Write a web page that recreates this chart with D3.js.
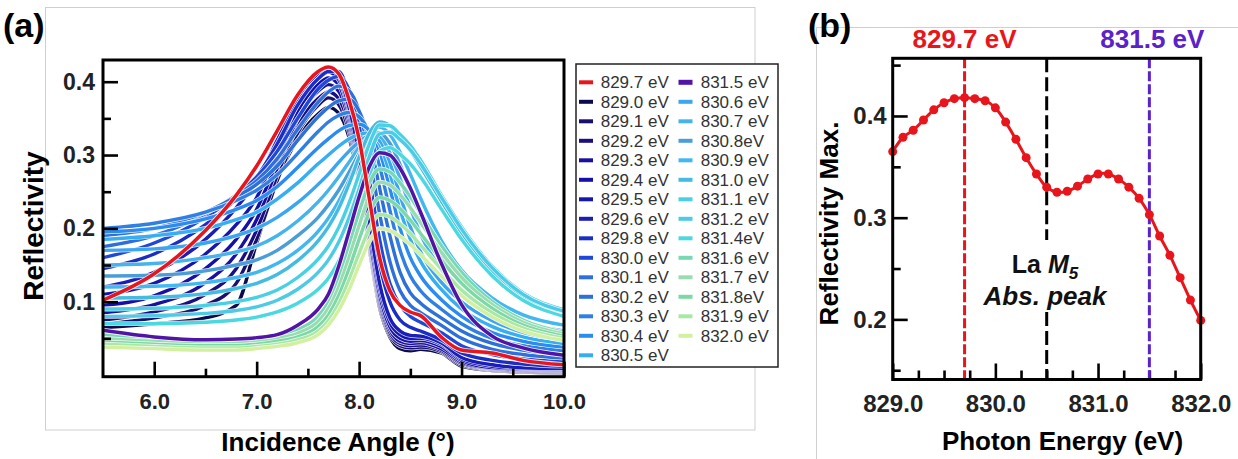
<!DOCTYPE html>
<html><head><meta charset="utf-8">
<script src="https://cdn.jsdelivr.net/npm/d3@7"></script>
<style>html,body{margin:0;padding:0;background:#fff;} svg{display:block;font-family:"Liberation Sans",Arial,sans-serif;}</style>
</head><body>
<svg id="chart" width="1238" height="459"></svg>
<script>
// ---------- Panel (a) data: reflectivity vs incidence angle ----------
const angles = [5.5, 6.0, 6.5, 6.8, 7.0, 7.2, 7.4, 7.6, 7.7, 7.8, 7.9, 8.0, 8.1, 8.2, 8.3, 8.4, 8.5, 8.6, 8.8, 9.0, 9.3, 9.6, 10.0];

const r8290 = [0.065,0.070,0.078,0.095,0.180,0.265,0.322,0.356,0.365,0.357,0.325,0.262,0.172,0.092,0.052,0.036,0.033,0.035,0.030,0.012,0.006,0.004,0.003];
const r8291 = [0.070,0.078,0.095,0.125,0.185,0.265,0.330,0.368,0.378,0.369,0.333,0.266,0.176,0.096,0.055,0.040,0.037,0.038,0.032,0.014,0.007,0.005,0.004];
const r8292 = [0.075,0.086,0.110,0.145,0.198,0.272,0.340,0.377,0.386,0.377,0.340,0.271,0.180,0.100,0.058,0.043,0.040,0.041,0.034,0.016,0.008,0.006,0.005];
const r8293 = [0.085,0.096,0.126,0.165,0.212,0.282,0.350,0.387,0.396,0.387,0.347,0.276,0.185,0.105,0.062,0.046,0.043,0.044,0.036,0.018,0.009,0.007,0.006];
const r8294 = [0.095,0.108,0.145,0.185,0.226,0.292,0.360,0.396,0.405,0.396,0.354,0.282,0.190,0.110,0.066,0.050,0.046,0.047,0.039,0.020,0.010,0.008,0.007];
const r8295 = [0.110,0.125,0.165,0.205,0.242,0.306,0.370,0.404,0.413,0.403,0.361,0.290,0.200,0.118,0.072,0.055,0.050,0.050,0.042,0.022,0.012,0.009,0.008];
const r8296 = [0.120,0.140,0.185,0.228,0.265,0.320,0.378,0.411,0.418,0.408,0.366,0.300,0.210,0.125,0.078,0.060,0.054,0.053,0.044,0.024,0.014,0.010,0.009];
const r8297 = [0.102,0.138,0.197,0.245,0.285,0.333,0.382,0.414,0.420,0.411,0.376,0.322,0.240,0.160,0.115,0.095,0.086,0.081,0.052,0.034,0.030,0.020,0.014];
const r8298 = [0.145,0.165,0.205,0.240,0.270,0.315,0.368,0.404,0.414,0.414,0.382,0.322,0.236,0.152,0.100,0.075,0.065,0.060,0.048,0.030,0.020,0.015,0.012];
const r8300 = [0.160,0.180,0.215,0.245,0.270,0.305,0.350,0.390,0.402,0.407,0.390,0.345,0.270,0.185,0.125,0.095,0.080,0.072,0.058,0.040,0.028,0.022,0.018];
const r8301 = [0.175,0.190,0.220,0.245,0.265,0.295,0.335,0.372,0.386,0.394,0.388,0.360,0.300,0.220,0.155,0.115,0.095,0.085,0.068,0.050,0.035,0.028,0.023];
const r8302 = [0.190,0.200,0.222,0.243,0.260,0.285,0.320,0.352,0.365,0.374,0.376,0.360,0.320,0.255,0.190,0.140,0.112,0.098,0.078,0.060,0.043,0.034,0.028];
const r8303 = [0.200,0.207,0.222,0.238,0.252,0.273,0.302,0.332,0.345,0.354,0.358,0.352,0.330,0.285,0.225,0.170,0.135,0.115,0.090,0.070,0.050,0.040,0.033];
const r8304 = [0.195,0.200,0.213,0.226,0.238,0.257,0.283,0.310,0.322,0.333,0.340,0.342,0.333,0.305,0.255,0.200,0.160,0.135,0.103,0.080,0.058,0.046,0.038];
const r8305 = [0.185,0.190,0.200,0.212,0.222,0.240,0.262,0.288,0.300,0.312,0.322,0.328,0.330,0.315,0.275,0.225,0.185,0.155,0.117,0.090,0.066,0.052,0.043];
const r8306 = [0.170,0.172,0.180,0.190,0.200,0.215,0.235,0.260,0.274,0.290,0.305,0.318,0.326,0.320,0.290,0.245,0.202,0.168,0.127,0.100,0.074,0.058,0.048];
const r8307 = [0.150,0.152,0.160,0.168,0.176,0.190,0.210,0.236,0.252,0.270,0.290,0.310,0.324,0.325,0.303,0.268,0.228,0.192,0.144,0.112,0.083,0.065,0.053];
const r8308 = [0.135,0.136,0.142,0.150,0.157,0.170,0.190,0.215,0.232,0.252,0.276,0.302,0.324,0.330,0.316,0.287,0.252,0.218,0.164,0.127,0.093,0.073,0.060];
const r8309 = [0.120,0.121,0.126,0.133,0.140,0.152,0.170,0.196,0.214,0.237,0.265,0.297,0.325,0.338,0.328,0.304,0.274,0.241,0.184,0.143,0.105,0.082,0.068];
const r8310 = [0.105,0.106,0.111,0.118,0.125,0.137,0.156,0.183,0.202,0.227,0.260,0.297,0.330,0.345,0.340,0.324,0.306,0.284,0.238,0.194,0.142,0.108,0.086];
const r8311 = [0.090,0.091,0.095,0.100,0.106,0.116,0.133,0.158,0.176,0.201,0.234,0.274,0.315,0.341,0.340,0.328,0.313,0.293,0.246,0.202,0.148,0.112,0.089];
const r8312 = [0.080,0.081,0.084,0.088,0.093,0.102,0.117,0.140,0.157,0.181,0.214,0.254,0.298,0.329,0.331,0.321,0.307,0.288,0.243,0.199,0.146,0.110,0.087];
const r8314 = [0.070,0.070,0.072,0.075,0.079,0.086,0.098,0.117,0.132,0.155,0.187,0.226,0.272,0.305,0.310,0.301,0.288,0.270,0.227,0.185,0.135,0.102,0.080];
const r8315 = [0.061,0.052,0.048,0.049,0.051,0.055,0.068,0.090,0.110,0.148,0.195,0.243,0.284,0.303,0.300,0.282,0.255,0.222,0.153,0.096,0.053,0.037,0.027];
const r8316 = [0.055,0.050,0.048,0.048,0.050,0.054,0.062,0.080,0.100,0.133,0.176,0.222,0.262,0.281,0.277,0.262,0.243,0.221,0.177,0.140,0.100,0.075,0.058];
const r8317 = [0.050,0.046,0.044,0.044,0.046,0.050,0.057,0.073,0.091,0.120,0.160,0.204,0.243,0.263,0.259,0.246,0.228,0.208,0.168,0.133,0.096,0.072,0.056];
const r8318 = [0.045,0.042,0.040,0.040,0.042,0.046,0.052,0.066,0.082,0.108,0.144,0.185,0.222,0.242,0.238,0.227,0.211,0.193,0.157,0.125,0.091,0.068,0.053];
const r8319 = [0.042,0.039,0.037,0.037,0.039,0.042,0.048,0.060,0.074,0.097,0.129,0.166,0.200,0.219,0.216,0.206,0.193,0.177,0.145,0.116,0.085,0.064,0.050];
const r8320 = [0.038,0.036,0.034,0.034,0.036,0.039,0.044,0.055,0.068,0.088,0.116,0.150,0.182,0.200,0.197,0.189,0.178,0.164,0.135,0.108,0.079,0.060,0.047];

const legendLeft  = ["829.7 eV","829.0 eV","829.1 eV","829.2 eV","829.3 eV","829.4 eV","829.5 eV","829.6 eV","829.8 eV","830.0 eV","830.1 eV","830.2 eV","830.3 eV","830.4 eV","830.5 eV"];
const legendRight = ["831.5 eV","830.6 eV","830.7 eV","830.8eV","830.9 eV","831.0 eV","831.1 eV","831.2 eV","831.4eV","831.6 eV","831.7 eV","831.8eV","831.9 eV","832.0 eV"];

// series in ascending energy order (draw order), highlighted ones last
const seriesOrder = ["829.0 eV","829.1 eV","829.2 eV","829.3 eV","829.4 eV","829.5 eV","829.6 eV","829.8 eV","830.0 eV","830.1 eV","830.2 eV","830.3 eV","830.4 eV","830.5 eV","830.6 eV","830.7 eV","830.8eV","830.9 eV","831.0 eV","831.1 eV","831.2 eV","831.4eV","831.6 eV","831.7 eV","831.8eV","831.9 eV","832.0 eV","831.5 eV","829.7 eV"];
const seriesValues = [r8290,r8291,r8292,r8293,r8294,r8295,r8296,r8298,r8300,r8301,r8302,r8303,r8304,r8305,r8306,r8307,r8308,r8309,r8310,r8311,r8312,r8314,r8316,r8317,r8318,r8319,r8320,r8315,r8297];

// ---------- Panel (b) data: reflectivity maximum vs photon energy ----------
const energies = [829.0,829.1,829.2,829.3,829.4,829.5,829.6,829.7,829.8,829.9,830.0,830.1,830.2,830.3,830.4,830.5,830.6,830.7,830.8,830.9,831.0,831.1,831.2,831.3,831.4,831.5,831.6,831.7,831.8,831.9,832.0];
const reflMax  = [0.365,0.379,0.386,0.396,0.406,0.413,0.417,0.418,0.417,0.415,0.408,0.394,0.377,0.359,0.343,0.330,0.325,0.326,0.331,0.338,0.343,0.343,0.338,0.330,0.319,0.303,0.282,0.263,0.241,0.219,0.199];
const xTicksA = [6,7,8,9,10];
const yTicksA = [0.1,0.2,0.3,0.4];
const xTicksB = [829,830,831,832];
const yTicksB = [0.2,0.3,0.4];

// ---------- styles ----------
const colors = {
  "829.7 eV":"#e8161c","829.0 eV":"#0c0a4e","829.1 eV":"#17106e","829.2 eV":"#1a0f82","829.3 eV":"#1a10a0",
  "829.4 eV":"#1410a8","829.5 eV":"#1616ae","829.6 eV":"#1a1db6","829.8 eV":"#1a2ec6","830.0 eV":"#1f47d8",
  "830.1 eV":"#2e6fdc","830.2 eV":"#2c70d8","830.3 eV":"#2f80e2","830.4 eV":"#2a8cf0","830.5 eV":"#36aef2",
  "831.5 eV":"#5214a6","830.6 eV":"#3aa6f0","830.7 eV":"#45b4ec","830.8eV":"#4a9ed8","830.9 eV":"#42b8f0",
  "831.0 eV":"#44bce2","831.1 eV":"#48d0e4","831.2 eV":"#4ccae6","831.4eV":"#4cd8e0","831.6 eV":"#78d8b4",
  "831.7 eV":"#98dcb0","831.8eV":"#7cd8a6","831.9 eV":"#a8e8a4","832.0 eV":"#d2f0a0"
};
const RED = "#e8161c", PURPLE = "#5a22c8";
const FONT = '"Liberation Sans", Arial, sans-serif';

const svg = d3.select("#chart");

// faint frame lines from the composed figure
svg.append("rect").attr("x",45.5).attr("y",7.5).attr("width",709.5).attr("height",422.5)
  .attr("fill","none").attr("stroke","#cfcfcf").attr("stroke-width",1);
svg.append("path").attr("d","M816.5,459V27.5H1238").attr("fill","none").attr("stroke","#cfcfcf").attr("stroke-width",1);

// ================= Panel (a) =================
const xA = d3.scaleLinear().domain([5.5,10]).range([103,564]);
const yA = d3.scaleLinear().domain([-0.0023,0.4296]).range([376.7,60]);

svg.append("clipPath").attr("id","clipA").append("rect")
  .attr("x",103).attr("y",60).attr("width",461).attr("height",316.7);

const gA = svg.append("g").attr("clip-path","url(#clipA)");
const lineA = d3.line().x((d,i)=>xA(angles[i])).y(d=>yA(d)).curve(d3.curveMonotoneX);

seriesOrder.forEach((name,k)=>{
  const vals = seriesValues[k];
  const special = (name==="829.7 eV" || name==="831.5 eV");
  gA.append("path").attr("d",lineA(vals)).attr("fill","none")
    .attr("stroke","#fff").attr("stroke-width",special?5.2:4.8).attr("stroke-opacity",0.85);
  gA.append("path").attr("d",lineA(vals)).attr("fill","none")
    .attr("stroke",colors[name]).attr("stroke-width",special?3.5:3.4)
    .attr("stroke-linejoin","round").attr("stroke-linecap","round");
});

// axes (a)
function styleAxis(g, size){
  g.select(".domain").remove();
  g.selectAll(".tick line").attr("stroke","#000").attr("stroke-width",2.6);
  g.selectAll(".tick text").attr("font-family",FONT).attr("font-weight","bold")
    .attr("font-size",size).attr("fill","#222");
}
const axA1 = svg.append("g").attr("transform","translate(0,376.7)")
  .call(d3.axisBottom(xA).tickValues(xTicksA).tickSize(-15).tickPadding(17).tickFormat(d3.format(".1f")));
styleAxis(axA1,22);
const axA2 = svg.append("g").attr("transform","translate(0,376.7)")
  .call(d3.axisBottom(xA).tickValues([6.5,7.5,8.5,9.5]).tickSize(-8).tickFormat(""));
styleAxis(axA2,22);
const axA3 = svg.append("g").attr("transform","translate(103,0)")
  .call(d3.axisLeft(yA).tickValues(yTicksA).tickSize(-15).tickPadding(8).tickFormat(d3.format(".1f")));
styleAxis(axA3,23);
const axA4 = svg.append("g").attr("transform","translate(103,0)")
  .call(d3.axisLeft(yA).tickValues([0.05,0.15,0.25,0.35]).tickSize(-8).tickFormat(""));
styleAxis(axA4,23);

svg.append("rect").attr("x",103).attr("y",60).attr("width",461).attr("height",316.7)
  .attr("fill","none").attr("stroke","#000").attr("stroke-width",3);

svg.append("text").attr("x",338).attr("y",451).attr("text-anchor","middle")
  .attr("font-family",FONT).attr("font-weight","bold").attr("font-size",26).text("Incidence Angle (°)");
svg.append("text").attr("transform","translate(43,226) rotate(-90)").attr("text-anchor","middle")
  .attr("font-family",FONT).attr("font-weight","bold").attr("font-size",28).text("Reflectivity");
svg.append("text").attr("x",3).attr("y",37).attr("font-family",FONT).attr("font-weight","bold")
  .attr("font-size",34).text("(a)");

// legend
const leg = svg.append("g");
leg.append("rect").attr("x",576).attr("y",64).attr("width",202).attr("height",303)
  .attr("fill","#fff").attr("stroke","#222").attr("stroke-width",1.5);
function legendCol(labels, xs, xt){
  labels.forEach((lab,i)=>{
    const y = 82.3 + i*19.5;
    leg.append("line").attr("x1",xs).attr("x2",xs+14).attr("y1",y).attr("y2",y)
      .attr("stroke",colors[lab]).attr("stroke-width",lab==="831.5 eV"?5:4);
    leg.append("text").attr("x",xt).attr("y",y+6).attr("font-family",FONT)
      .attr("font-size",17).attr("fill","#333").text(lab);
  });
}
legendCol(legendLeft,579,600.7);
legendCol(legendRight,678.5,700.7);

// ================= Panel (b) =================
const xB = d3.scaleLinear().domain([829,832]).range([892.7,1200.7]);
const yB = d3.scaleLinear().domain([0.1409,0.4567]).range([379.5,58.3]);

const axB1 = svg.append("g").attr("transform","translate(0,379.5)")
  .call(d3.axisBottom(xB).tickValues(xTicksB).tickSize(-16).tickPadding(15).tickFormat(d3.format(".1f")));
styleAxis(axB1,24);
const axB2 = svg.append("g").attr("transform","translate(0,379.5)")
  .call(d3.axisBottom(xB).tickValues([829.25,829.5,829.75,830.25,830.5,830.75,831.25,831.5,831.75]).tickSize(-9).tickFormat(""));
styleAxis(axB2,24);
const axB3 = svg.append("g").attr("transform","translate(892.7,0)")
  .call(d3.axisLeft(yB).tickValues(yTicksB).tickSize(-15).tickPadding(6).tickFormat(d3.format(".1f")));
styleAxis(axB3,24);
const axB4 = svg.append("g").attr("transform","translate(892.7,0)")
  .call(d3.axisLeft(yB).tickValues([0.15,0.25,0.35,0.45]).tickSize(-8).tickFormat(""));
styleAxis(axB4,24);

// marker lines
svg.append("line").attr("x1",xB(829.7)).attr("x2",xB(829.7)).attr("y1",58.3).attr("y2",379.5)
  .attr("stroke",RED).attr("stroke-width",3).attr("stroke-dasharray","10,3");
svg.append("line").attr("x1",xB(831.5)).attr("x2",xB(831.5)).attr("y1",58.3).attr("y2",379.5)
  .attr("stroke",PURPLE).attr("stroke-width",3).attr("stroke-dasharray","10,3");
svg.append("line").attr("x1",xB(830.5)).attr("x2",xB(830.5)).attr("y1",58.3).attr("y2",240)
  .attr("stroke","#000").attr("stroke-width",3).attr("stroke-dasharray","14,5");
svg.append("line").attr("x1",xB(830.5)).attr("x2",xB(830.5)).attr("y1",312).attr("y2",379.5)
  .attr("stroke","#000").attr("stroke-width",3).attr("stroke-dasharray","14,5");

// data
const lineB = d3.line().x((d,i)=>xB(energies[i])).y(d=>yB(d)).curve(d3.curveCatmullRom.alpha(0.5));
svg.append("path").attr("d",lineB(reflMax)).attr("fill","none").attr("stroke",RED).attr("stroke-width",3);
svg.append("g").selectAll("circle").data(reflMax).join("circle")
  .attr("cx",(d,i)=>xB(energies[i])).attr("cy",d=>yB(d)).attr("r",4.5).attr("fill",RED);

svg.append("rect").attr("x",892.7).attr("y",58.3).attr("width",308).attr("height",321.2)
  .attr("fill","none").attr("stroke","#000").attr("stroke-width",3);

// annotations
svg.append("text").attr("x",xB(829.7)).attr("y",48).attr("text-anchor","middle")
  .attr("font-family",FONT).attr("font-weight","bold").attr("font-size",26).attr("fill",RED).text("829.7 eV");
svg.append("text").attr("x",xB(831.5)+3).attr("y",48).attr("text-anchor","middle")
  .attr("font-family",FONT).attr("font-weight","bold").attr("font-size",26).attr("fill",PURPLE).text("831.5 eV");

const la = svg.append("text").attr("x",1045).attr("y",273).attr("text-anchor","middle")
  .attr("font-family",FONT).attr("font-weight","bold").attr("font-size",25).attr("fill","#111");
la.append("tspan").text("La ");
la.append("tspan").attr("font-style","italic").text("M");
la.append("tspan").attr("font-style","italic").attr("font-size",17).attr("dy",6).text("5");
svg.append("text").attr("x",1045).attr("y",305).attr("text-anchor","middle")
  .attr("font-family",FONT).attr("font-weight","bold").attr("font-style","italic").attr("font-size",26)
  .attr("fill","#111").text("Abs. peak");

svg.append("text").attr("x",1062.5).attr("y",450).attr("text-anchor","middle")
  .attr("font-family",FONT).attr("font-weight","bold").attr("font-size",26).text("Photon Energy (eV)");
svg.append("text").attr("transform","translate(838,223.5) rotate(-90)").attr("text-anchor","middle")
  .attr("font-family",FONT).attr("font-weight","bold").attr("font-size",26).text("Reflectivity Max.");
svg.append("text").attr("x",808).attr("y",37).attr("font-family",FONT).attr("font-weight","bold")
  .attr("font-size",34).text("(b)");
</script>
</body></html>
